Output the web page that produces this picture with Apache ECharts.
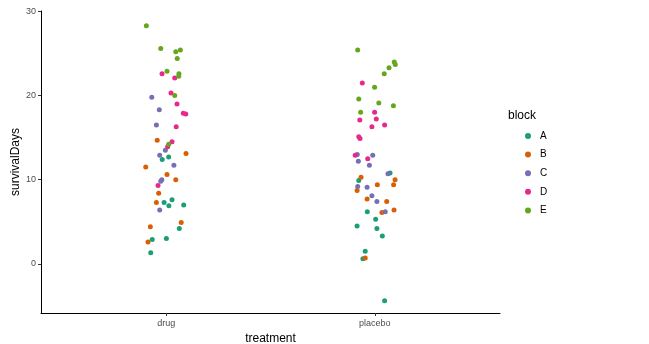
<!DOCTYPE html>
<html><head><meta charset="utf-8">
<script src="https://cdn.jsdelivr.net/npm/echarts@6/dist/echarts.min.js"></script>
<style>html,body{margin:0;padding:0;background:#fff}#c{width:649px;height:344px}</style>
</head><body><div id="c"></div>
<script>
const categories = ['drug', 'placebo'];
const blocks = ['A', 'B', 'C', 'D', 'E'];
const yTicks = [0, 10, 20, 30];
// jittered x positions (1 = drug, 2 = placebo) and survivalDays per block
const xA = [1.012,0.981,1.028,0.990,1.013,1.084,1.063,0.933,1.001,0.926, 2.073,1.923,1.964,2.004,1.915,2.010,2.036,1.954,1.943,2.047];
const yA = [12.7,12.4,7.6,7.3,6.9,7.0,4.2,2.9,3.0,1.3, 10.8,9.9,6.2,5.3,4.5,4.2,3.3,1.5,0.6,-4.4];
const xB = [0.957,1.095,0.902,1.004,1.046,0.964,0.953,0.924,1.072,0.913, 1.934,2.097,2.012,2.090,1.915,1.963,2.057,2.092,2.034,1.954];
const yB = [14.7,13.1,11.5,10.6,10.0,8.4,7.3,4.4,4.9,2.6, 10.3,10.0,9.4,9.4,8.7,7.7,7.4,6.4,6.1,0.7];
const xC = [0.931,0.967,0.953,0.996,0.969,1.037,0.979,0.974,0.969, 1.916,1.990,1.921,1.974,2.063,1.918,1.963,1.986,2.010,2.050];
const yC = [19.8,18.3,16.5,13.5,12.9,11.7,10.0,9.8,6.4, 13.0,12.9,12.2,11.7,10.7,9.2,9.1,8.1,7.4,6.2];
const xD = [0.980,1.041,1.023,1.052,1.082,1.094,1.048,1.028,1.007,0.961, 1.940,1.999,1.928,2.007,2.047,1.986,1.923,1.929,1.906,1.966];
const yD = [22.6,22.1,20.3,19.0,17.9,17.8,16.3,14.5,13.9,9.3, 21.5,18.0,17.1,17.2,16.5,16.3,15.1,14.9,12.9,12.5];
const xE = [0.905,0.974,1.046,1.068,1.053,1.004,1.061,1.060,1.041,1.012, 1.918,2.093,2.098,2.068,2.045,1.999,1.923,2.019,2.089,1.932];
const yE = [28.3,25.6,25.2,25.4,24.4,22.9,22.6,22.3,20.0,14.2, 25.4,24.0,23.7,23.3,22.6,21.0,19.6,19.1,18.8,18.0];
const colors = ['#1B9E77','#D95F02','#7570B3','#E7298A','#66A61E'];

const xs = [xA,xB,xC,xD,xE], ys = [yA,yB,yC,yD,yE];
const series = blocks.map((b,i)=>({
  name: b, type: 'scatter', symbolSize: 5,
  itemStyle: {color: colors[i], opacity: 1},
  data: xs[i].map((x,j)=>[x, ys[i][j]])
}));

const chart = echarts.init(document.getElementById('c'), null, {renderer:'canvas'});
chart.setOption({
  animation: false,
  backgroundColor: '#fff',
  grid: {left: 41, right: 149, top: 11, bottom: 31, containLabel: false, outerBoundsMode: 'none'},
  xAxis: {
    type: 'value', min: 0.4, max: 2.6,
    name: 'treatment', nameLocation: 'middle', nameGap: 18,
    nameTextStyle: {fontFamily: 'Liberation Sans, Arial', fontSize: 12, color: '#000'},
    splitLine: {show: false},
    axisLine: {show: true, onZero: false, lineStyle: {color: '#000', width: 1}},
    axisTick: {show: true, length: 3, customValues: [1,2], lineStyle: {color: '#333'}},
    axisLabel: {customValues: [1,2], formatter: v => categories[Math.round(v)-1] || '', color: '#4d4d4d', fontSize: 9, margin: 6, fontFamily: 'Liberation Sans, Arial'}
  },
  yAxis: {
    type: 'value', min: -5.85, max: 30.05,
    name: 'survivalDays', nameLocation: 'middle', nameGap: 19, nameRotate: 90, nameMoveOverlap: false,
    nameTextStyle: {fontFamily: 'Liberation Sans, Arial', fontSize: 12, color: '#000'},
    splitLine: {show: false},
    axisLine: {show: true, onZero: false, lineStyle: {color: '#000', width: 1}},
    axisTick: {show: true, length: 3, customValues: yTicks, lineStyle: {color: '#333'}},
    axisLabel: {customValues: yTicks, color: '#4d4d4d', fontSize: 9, margin: 5, fontFamily: 'Liberation Sans, Arial'}
  },
  title: {text: 'block', left: 503, top: 105, textStyle: {fontFamily: 'Liberation Sans, Arial', fontSize: 12, fontWeight: 'normal', color: '#000'}},
  legend: {
    orient: 'vertical', left: 520, top: 126, itemWidth: 6, itemHeight: 6, itemGap: 8.6,
    icon: 'circle',
    textStyle: {fontFamily: 'Liberation Sans, Arial', fontSize: 10, color: '#000', padding: [0,0,0,4]},
    data: blocks
  },
  series: series
});
</script></body></html>
